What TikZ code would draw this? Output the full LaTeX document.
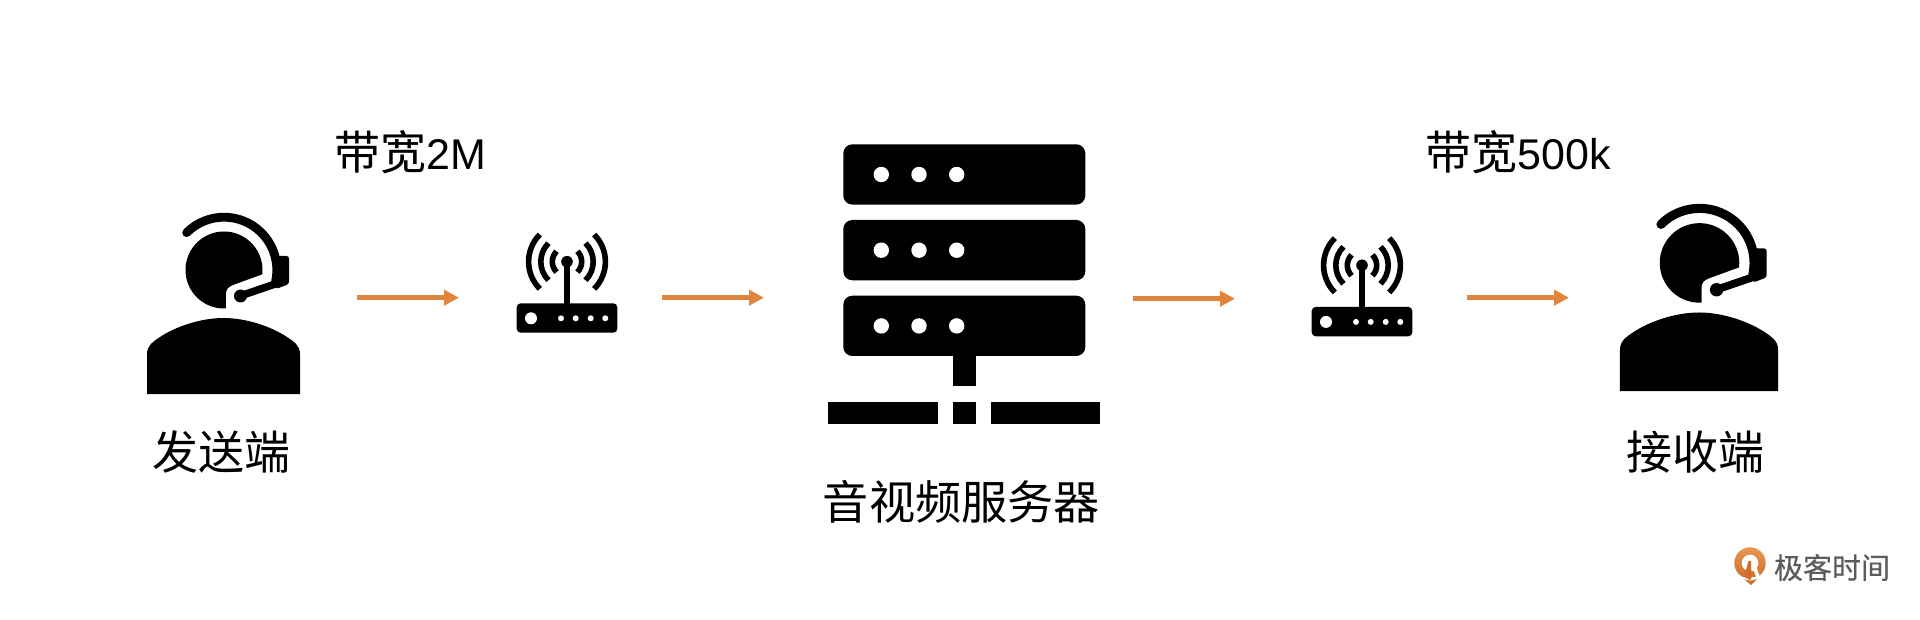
\documentclass[tikz,border=0pt]{standalone}
\usepackage{fontspec}
\newfontfamily\cjk{Noto Sans CJK SC}
\newfontfamily\cjklogo[FakeBold=0.5]{Noto Sans CJK SC}
\newfontfamily\latinlbl{Liberation Sans}
\usetikzlibrary{arrows.meta}
\definecolor{flow}{HTML}{E0853E}
\definecolor{logotext}{HTML}{5C5C5C}
\definecolor{logotop}{HTML}{E9974F}
\definecolor{logobot}{HTML}{CF6F2E}
\newcommand{\lat}[1]{{\latinlbl\fontsize{43}{43}\selectfont #1}}
\tikzset{
  iconbox/.style={inner sep=0pt,minimum height=0pt,outer sep=0pt},
  flowarrow/.style={draw=flow,line width=4.4pt,-{Triangle[length=15pt,width=15pt]}},
  textlbl/.style={inner sep=0pt,font=\cjk\fontsize{46}{46}\selectfont,text=black},
  wavearc/.style={line width=5.6pt,black},
}
\newcommand{\personicon}[3]{%
  \begin{scope}[shift={(#1,#2)},scale=#3,shift={(-223.5,-394)}]
    \fill (224,270) circle[radius=38.5];
    \fill[white] (263.5,274) -- (233.3,285) .. controls (228,287) and (226,290) .. (226,294) -- (226,310) -- (264,310) -- cycle;
    \draw[line width=#3*8.8pt,line cap=round] (224,270) ++(225:52.8) arc[start angle=225,end angle=372,radius=52.8];
    \fill[rounded corners=2.5pt] (276,256) -- (289,256) -- (289,284) -- (276,289) -- cycle;
    \draw[line width=#3*7.5pt] (240,296) -- (284,281);
    \fill (240.5,296) circle[radius=6.5];
    \fill (147,394) -- (147,354) .. controls (147,345) and (154,341) .. (160,337)
      .. controls (175,327) and (200,318) .. (223.5,318)
      .. controls (247,318) and (272,327) .. (287,337)
      .. controls (293,341) and (300,345) .. (300,354) -- (300,394) -- cycle;
  \end{scope}}
\newcommand{\routericon}[2]{%
  \begin{scope}[shift={(#1,#2)}]
    \fill[rounded corners=4pt] (516.7,303.3) rectangle (617.3,332.7);
    \fill (564,262) rectangle (570,304);
    \fill (567,261.7) circle[radius=5.8];
    \foreach \r in {14.7,26.2,38.4}{
      \draw[wavearc] (567,261.7) ++(135:\r) arc[start angle=135,end angle=225,radius=\r];
      \draw[wavearc] (567,261.7) ++(-45:\r) arc[start angle=-45,end angle=45,radius=\r];
    }
    \fill[white] (531,318.3) circle[radius=6];
    \foreach \x in {561,575.7,590.7,605.3}{\fill[white] (\x,318.3) circle[radius=3];}
  \end{scope}}
\begin{document}
\begin{tikzpicture}[x=1pt,y=-1pt]
\useasboundingbox (0,0) rectangle (1920,620);
\fill[white] (0,0) rectangle (1920,620);

% anchors for the connectors, spanning each icon and its margins
\node[iconbox,minimum width=210pt] (sender)   at (252,297.7) {};
\node[iconbox,minimum width=203pt] (router1)  at (560.5,297.7) {};
\node[iconbox,minimum width=368.7pt] (server) at (948.35,297.7) {};
\node[iconbox,minimum width=231.7pt] (router2) at (1350.85,297.7) {};
\node[iconbox,minimum width=209pt] (receiver) at (1673.5,297.7) {};

\personicon{223.5}{394}{1}
\personicon{1699}{391}{1.033}
\routericon{0}{0}
\routericon{795}{3.6}

% server
\foreach \y in {144.3,220,295.7}{
  \fill[rounded corners=9pt] (843.3,\y) rectangle (1085.3,\y+60.3);
  \foreach \x in {881.3,919,956.7}{\fill[white] (\x,\y+30.2) circle[radius=7.7];}
}
\fill (953.3,356) rectangle (975.7,386);
\fill (828.3,401.7) rectangle (938,424);
\fill (953.3,401.7) rectangle (975.7,424);
\fill (991,401.7) rectangle (1100.3,424);

% connectors
\draw[flowarrow] (sender.east) -- (router1.west);
\draw[flowarrow] (router1.east) -- (server.west);
\draw[flowarrow] ([yshift=-1pt]server.east) -- ([yshift=-1pt]router2.west);
\draw[flowarrow] (router2.east) -- (receiver.west);

% labels
\node[textlbl] (lsend) at (221,452) {发送端};
\node[textlbl] (lbw1) at (410.5,152) {带宽\lat{2M}};
\node[textlbl] (lserver) at (961.5,502) {\fontsize{46.2}{46.2}\selectfont 音视频服务器};
\node[textlbl] (lbw2) at (1518,152) {带宽\lat{500k}};
\node[textlbl] (lrecv) at (1695,452) {接收端};

% logo
\shade[top color=logotop,bottom color=logobot] (1750,563) circle[radius=15.7];
\fill[white] (1750,563) circle[radius=8.3];
\fill[white] (1740,577) -- (1760,577) -- (1760,585) -- (1740,585) -- cycle;
\fill[logobot] (1744,577) -- (1748.5,561) -- (1751,561) -- (1751.5,578) -- (1750,580) -- cycle;
\fill[white] (1753,568) -- (1756,566) -- (1760,577) -- (1756,577) -- cycle;
\fill[logobot] (1744,579) .. controls (1748,581) and (1753,581) .. (1757,579) -- (1751,585) -- cycle;
\node[inner sep=0pt,font=\cjklogo\fontsize{29}{29}\selectfont,text=logotext] (logo) at (1832,567.5) {极客时间};
\end{tikzpicture}
\end{document}
